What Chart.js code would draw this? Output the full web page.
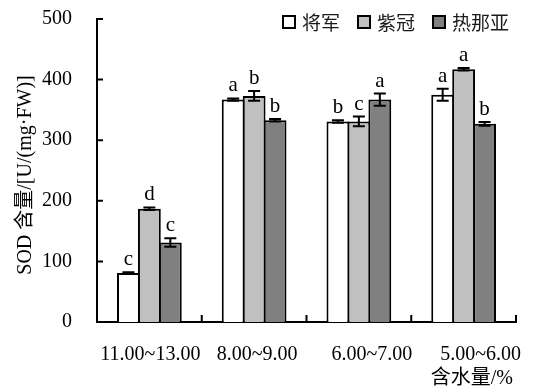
<!DOCTYPE html>
<html>
<head>
<meta charset="utf-8">
<script src="https://cdn.jsdelivr.net/npm/chart.js@4.4.0/dist/chart.umd.min.js"></script>
<style>
  html, body { margin: 0; padding: 0; background: #fff; }
  #wrap { position: relative; width: 541px; height: 392px; }
  #legend {
    position: absolute; left: 282px; top: 12px;
    display: flex; align-items: center;
    font: 19px "Noto Sans CJK SC", sans-serif; color: #1a1a1a;
  }
  .item { display: flex; align-items: center; margin-right: 17px; line-height: 20px; }
  .box { width: 14px; height: 14px; border: 2px solid #000; box-sizing: border-box; margin-right: 6px; }
</style>
</head>
<body>
<div id="wrap">
  <canvas id="sodChart" width="541" height="392"></canvas>
  <div id="legend"></div>
</div>
<script>
// Dữ liệu: hàm lượng SOD theo độ ẩm
const categories = ["11.00~13.00", "8.00~9.00", "6.00~7.00", "5.00~6.00"];
const seriesNames = ["将军", "紫冠", "热那亚"];

const jiangjun = [81, 367, 331, 375];
const ziguan = [187, 373, 331, 417];
const renaya = [131, 333, 367, 327];

const jiangjunErr = [1, 2, 2, 10];
const ziguanErr = [2, 8, 8, 2];
const renayaErr = [7, 2, 10, 3];

const jiangjunSig = ["c", "a", "b", "a"];
const ziguanSig = ["d", "b", "c", "a"];
const renayaSig = ["c", "b", "a", "b"];

const yTicks = [0, 100, 200, 300, 400, 500];

const serif = "'Liberation Serif', 'Times New Roman', 'Noto Sans CJK SC', serif";
const barColors = ["#ffffff", "#c0c0c0", "#808080"];
// nhãn trục x hơi lệch phải như ảnh gốc
const labelShift = [1, 3, 13, 17];

// Legend HTML
const legendEl = document.getElementById("legend");
seriesNames.forEach((name, i) => {
  legendEl.innerHTML += `<div class="item"><span class="box" style="background:${barColors[i]}"></span>${name}</div>`;
});

// Error bars + letters + inward ticks + axis titles
const extrasPlugin = {
  id: "extras",
  afterDatasetsDraw(chart) {
    const { ctx, scales } = chart;
    const y = scales.y;
    const x = scales.x;
    const errs = [jiangjunErr, ziguanErr, renayaErr];
    const sigs = [jiangjunSig, ziguanSig, renayaSig];

    ctx.save();
    ctx.strokeStyle = "#000";
    ctx.lineWidth = 2;
    chart.data.datasets.forEach((ds, di) => {
      const meta = chart.getDatasetMeta(di);
      meta.data.forEach((bar, i) => {
        const v = ds.data[i];
        const e = errs[di][i];
        const top = y.getPixelForValue(v + e);
        const bot = y.getPixelForValue(v - e);
        ctx.beginPath();
        ctx.moveTo(bar.x, top); ctx.lineTo(bar.x, bot);
        ctx.moveTo(bar.x - 6, top); ctx.lineTo(bar.x + 6, top);
        ctx.moveTo(bar.x - 6, bot); ctx.lineTo(bar.x + 6, bot);
        ctx.stroke();

        ctx.fillStyle = "#000";
        ctx.font = "21px " + serif;
        ctx.textAlign = "center";
        ctx.textBaseline = "alphabetic";
        ctx.fillText(sigs[di][i], bar.x, top - 7);
      });
    });

    // tick marks pointing inward
    ctx.beginPath();
    y.ticks.forEach((t) => {
      const py = y.getPixelForValue(t.value);
      ctx.moveTo(y.right, py); ctx.lineTo(y.right + 6, py);
    });
    const step = x.getPixelForValue(1) - x.getPixelForValue(0);
    categories.forEach((c, i) => {
      const px = x.getPixelForValue(i) + step / 2;
      ctx.moveTo(px, x.top); ctx.lineTo(px, x.top - 7);
    });
    ctx.stroke();

    ctx.fillStyle = "#000";
    ctx.font = "20px " + serif;
    ctx.textBaseline = "middle";

    // x tick labels
    ctx.textAlign = "center";
    categories.forEach((c, i) => {
      ctx.fillText(c, x.getPixelForValue(i) + labelShift[i], 355);
    });

    // axis titles
    ctx.save();
    ctx.translate(26, 175);
    ctx.rotate(-Math.PI / 2);
    ctx.fillText("SOD 含量/[U/(mg·FW)]", 0, 0);
    ctx.restore();
    ctx.textAlign = "right";
    ctx.fillText("含水量/%", x.right - 3, 379);
    ctx.restore();
  },
};

const makeDataset = (label, data, color) => ({
  label,
  data,
  backgroundColor: color,
  borderColor: "#000",
  borderWidth: 2,
  barPercentage: 1.09,
  categoryPercentage: 0.6,
});

new Chart(document.getElementById("sodChart").getContext("2d"), {
  type: "bar",
  data: {
    labels: categories,
    datasets: [
      makeDataset(seriesNames[0], jiangjun, barColors[0]),
      makeDataset(seriesNames[1], ziguan, barColors[1]),
      makeDataset(seriesNames[2], renaya, barColors[2]),
    ],
  },
  options: {
    responsive: false,
    animation: false,
    layout: { padding: { top: 19, right: 25, left: 0, bottom: 0 } },
    plugins: { legend: { display: false }, tooltip: { enabled: false } },
    scales: {
      x: {
        grid: { display: false },
        border: { display: true, color: "#000", width: 2 },
        ticks: { display: false },
        afterFit: (s) => { s.height = 70; s.paddingLeft = 0; s.paddingRight = 0; },
      },
      y: {
        min: 0,
        max: 500,
        afterBuildTicks: (s) => { s.ticks = yTicks.map((v) => ({ value: v })); },
        grid: { display: false },
        border: { display: true, color: "#000", width: 2 },
        ticks: { color: "#000", font: { family: serif, size: 20 }, padding: 17 },
        afterFit: (s) => { s.width = 97; s.paddingTop = 0; s.paddingBottom = 0; },
      },
    },
  },
  plugins: [extrasPlugin],
});
</script>
</body>
</html>
